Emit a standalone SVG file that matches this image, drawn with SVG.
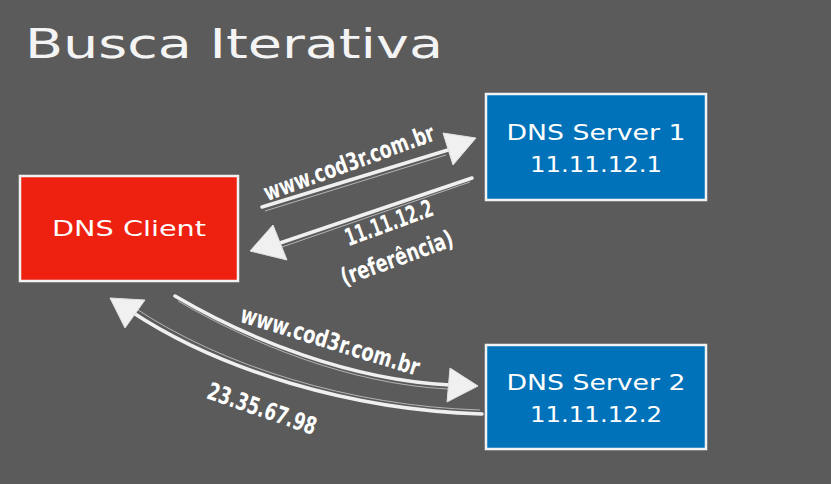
<svg xmlns="http://www.w3.org/2000/svg" width="831" height="484" viewBox="0 0 831 484">
<style>
.title{font-family:"DejaVu Sans","Noto Sans",sans-serif;font-size:40px;fill:#f4f4f4}
.box{stroke:#f2f2f2;stroke-width:2.5}
.bt{font-family:"DejaVu Sans","Noto Sans",sans-serif;font-size:21px;fill:#ffffff;text-anchor:middle}
.lbl{font-family:"Liberation Sans Narrow","DejaVu Sans Condensed","Roboto",sans-serif;font-weight:bold;font-size:24px;fill:#ffffff;text-anchor:middle}
.ln{fill:none;stroke:#f0f0f0;stroke-width:3.5;stroke-linecap:round}
.ln2{fill:none;stroke:#d8d8d8;stroke-width:1;opacity:0.7}
.head{fill:#f0f0f0;stroke:#e0e0e0;stroke-width:1}
</style>
<rect width="831" height="484" fill="#5b5b5b"/>
<text class="title" x="25" y="58" textLength="418" lengthAdjust="spacingAndGlyphs">Busca Iterativa</text>
<g id="client">
<rect class="box" x="20" y="176" width="218" height="105" fill="#ee2010"/>
<text class="bt" x="129" y="236" textLength="154" lengthAdjust="spacingAndGlyphs">DNS Client</text>
</g>
<g id="server1">
<rect class="box" x="486" y="94" width="220" height="106" fill="#0072b9"/>
<text class="bt" x="596" y="140" textLength="179" lengthAdjust="spacingAndGlyphs">DNS Server 1</text>
<text class="bt" x="596" y="172" textLength="132" lengthAdjust="spacingAndGlyphs">11.11.12.1</text>
</g>
<g id="server2">
<rect class="box" x="486" y="345" width="220" height="104" fill="#0072b9"/>
<text class="bt" x="596" y="390" textLength="179" lengthAdjust="spacingAndGlyphs">DNS Server 2</text>
<text class="bt" x="596" y="422" textLength="132" lengthAdjust="spacingAndGlyphs">11.11.12.2</text>
</g>
<g id="connectors">
<path class="ln" d="M262,207 L448,150"/>
<path class="ln2" d="M265,211 L446,155"/>
<polygon class="head" points="476,138 443,133 453,165"/>
<path class="ln" d="M472,178 L280,243"/>
<path class="ln2" d="M470,182 L282,247"/>
<polygon class="head" points="250,251 273,225 287,260"/>
<path class="ln" d="M175,296 C250,340 350,380 450,385"/>
<path class="ln2" d="M178,301 C252,344 350,384 448,389"/>
<polygon class="head" points="478,386 450,368 447,402"/>
<path class="ln" d="M482,414 C350,410 220,370 132,312"/>
<path class="ln2" d="M480,410 C350,406 222,366 135,308"/>
<polygon class="head" points="110,298 145,300 125,328"/>
<g transform="translate(349,163) rotate(-20)"><text class="lbl" x="0" y="8" textLength="180" lengthAdjust="spacingAndGlyphs">www.cod3r.com.br</text></g>
<g transform="translate(389,223) rotate(-20)"><text class="lbl" x="0" y="8" textLength="92" lengthAdjust="spacingAndGlyphs">11.11.12.2</text></g>
<g transform="translate(397,258) rotate(-20)"><text class="lbl" x="0" y="8" textLength="118" lengthAdjust="spacingAndGlyphs">(referência)</text></g>
<g transform="translate(330,341) rotate(17)"><text class="lbl" x="0" y="8" textLength="186" lengthAdjust="spacingAndGlyphs">www.cod3r.com.br</text></g>
<g transform="translate(262,409) rotate(19)"><text class="lbl" x="0" y="8" textLength="114" lengthAdjust="spacingAndGlyphs">23.35.67.98</text></g>
</g>
</svg>
